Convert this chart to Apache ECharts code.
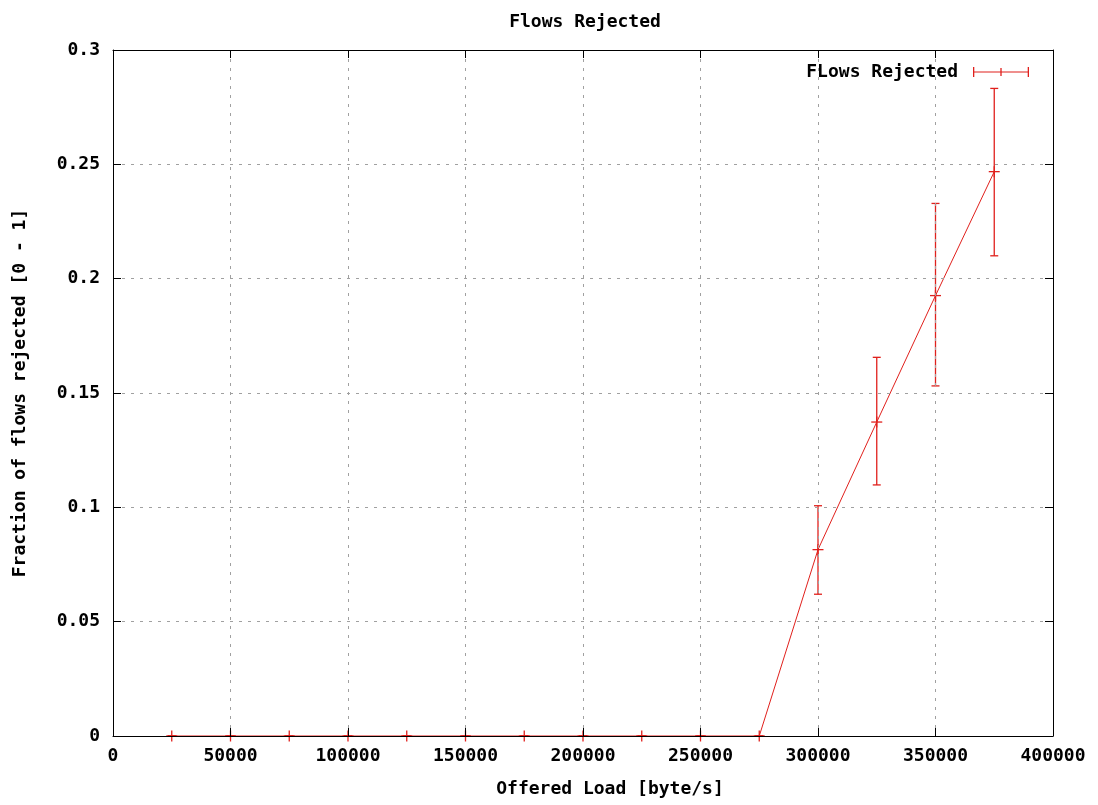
<!DOCTYPE html>
<html>
<head>
<meta charset="UTF-8" />
<title>Flows Rejected</title>
<script src="https://cdn.jsdelivr.net/npm/echarts@6/dist/echarts.min.js"></script>
<style type="text/css">
body{
	margin: 0px;
	background: #fff;
}
#chart{
	width: 1098px;
	height: 805px;
}
</style>
</head>
<body>

<div id="chart"></div>

<script type="text/javascript">

// offered load (byte/s)
var loads = [25000, 50000, 75000, 100000, 125000, 150000, 175000, 200000,
	225000, 250000, 275000, 300000, 325000, 350000, 375000];
// fraction of flows rejected, mean and error range
var rejected = [0, 0, 0, 0, 0, 0, 0, 0, 0, 0, 0, 0.0815, 0.1373, 0.1926, 0.2468];
var errLow   = [0, 0, 0, 0, 0, 0, 0, 0, 0, 0, 0, 0.0620, 0.1098, 0.1531, 0.2100];
var errHigh  = [0, 0, 0, 0, 0, 0, 0, 0, 0, 0, 0, 0.1007, 0.1656, 0.2329, 0.2832];

var RED = '#e0201c';
var FONT = 'DejaVu Sans Mono';

var lineData = [];
var barData = [];
for (var i = 0; i < loads.length; i++) {
	lineData.push([loads[i], rejected[i]]);
	barData.push([loads[i], errLow[i], errHigh[i], rejected[i]]);
}

function renderErrorBar(params, api){
	var x = api.value(0);
	var pLo = api.coord([x, api.value(1)]);
	var pHi = api.coord([x, api.value(2)]);
	var pC = api.coord([x, api.value(3)]);
	var cap = 4, plus = 5.5;
	var st = { stroke: RED, lineWidth: 1.3, fill: null };
	function seg(x1, y1, x2, y2){
		return { type: 'line', shape: { x1: x1, y1: y1, x2: x2, y2: y2 }, style: st };
	}
	return {
		type: 'group',
		children: [
			seg(pLo[0], pLo[1], pHi[0], pHi[1]),
			seg(pLo[0] - cap, pLo[1], pLo[0] + cap, pLo[1]),
			seg(pHi[0] - cap, pHi[1], pHi[0] + cap, pHi[1]),
			seg(pC[0] - plus, pC[1], pC[0] + plus, pC[1]),
			seg(pC[0], pC[1] - plus, pC[0], pC[1] + plus)
		]
	};
}

var txt = { fontFamily: FONT, fontWeight: 'bold', fontSize: 18, color: '#000' };
var gridLine = {
	show: true, showMinLine: false, showMaxLine: false,
	lineStyle: { color: '#a0a0a0', type: [3, 6], width: 1 }
};
var border = { show: true, onZero: false, lineStyle: { color: '#000', width: 1 } };
var ticks = { show: true, inside: true, length: 8, lineStyle: { color: '#000' } };

var legendIcon = 'path://M0,4.4H56V5.6H0Z M0,0H1.3V10H0Z M54.7,0H56V10H54.7Z M27.35,1H28.65V9H27.35Z';

var option = {
	backgroundColor: '#fff',
	animation: false,
	title: {
		text: 'Flows Rejected',
		left: 580,
		top: 8,
		textAlign: 'center',
		textStyle: txt
	},
	legend: {
		right: 64,
		top: 58,
		align: 'right',
		itemWidth: 56,
		itemHeight: 10,
		textStyle: Object.assign({}, txt, { padding: [0, 10, 0, 0] }),
		data: [{ name: 'FLows Rejected', icon: legendIcon }]
	},
	grid: { left: 113, right: 45, top: 50, bottom: 69 },
	xAxis: [{
		type: 'value',
		min: 0, max: 400000, interval: 50000,
		z: 5,
		axisLine: border,
		axisTick: ticks,
		splitLine: gridLine,
		axisLabel: Object.assign({ margin: 11, formatter: function (v) { return String(v); } }, txt),
		name: 'Offered Load [byte/s]',
		nameLocation: 'middle',
		nameGap: 44,
		nameTextStyle: Object.assign({ padding: [0, 0, 0, 54] }, txt)
	}, {
		type: 'value',
		position: 'top',
		min: 0, max: 400000, interval: 50000,
		z: 5,
		axisLine: border,
		axisTick: ticks,
		axisLabel: { show: false },
		splitLine: { show: false }
	}],
	yAxis: [{
		type: 'value',
		min: 0, max: 0.3, interval: 0.05,
		z: 5,
		axisLine: border,
		axisTick: ticks,
		splitLine: gridLine,
		axisLabel: Object.assign({ margin: 13 }, txt),
		name: 'Fraction of flows rejected [0 - 1]',
		nameLocation: 'middle',
		nameRotate: 90,
		nameGap: 84,
		nameTextStyle: txt
	}, {
		type: 'value',
		position: 'right',
		min: 0, max: 0.3, interval: 0.05,
		z: 5,
		axisLine: border,
		axisTick: ticks,
		axisLabel: { show: false },
		splitLine: { show: false }
	}],
	series: [{
		name: 'FLows Rejected',
		type: 'line',
		xAxisIndex: 0,
		yAxisIndex: 0,
		data: lineData,
		showSymbol: false,
		color: RED,
		lineStyle: { color: RED, width: 1 },
		z: 2
	}, {
		name: 'FLows Rejected',
		type: 'custom',
		xAxisIndex: 0,
		yAxisIndex: 0,
		data: barData,
		renderItem: renderErrorBar,
		color: RED,
		z: 2
	}]
};

var myChart = echarts.init(document.getElementById('chart'));
myChart.setOption(option);

</script>

</body>
</html>
